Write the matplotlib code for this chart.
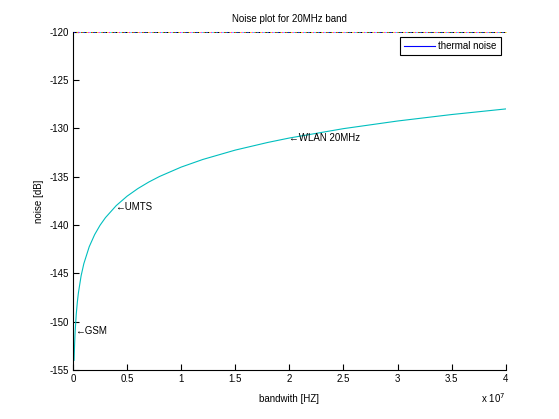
import numpy as np
import matplotlib
matplotlib.use("Agg")
import matplotlib.pyplot as plt
from matplotlib.ticker import MultipleLocator, FuncFormatter

# bandwidth [Hz] and thermal noise [dB]
bandwidth = [1e5, 1.5e5, 2e5, 3e5, 4e5, 5e5, 7.5e5, 1e6, 1.5e6, 2e6, 2.5e6,
             3e6, 4e6, 5e6, 6e6, 7e6, 8e6, 1e7, 1.2e7, 1.5e7, 1.8e7, 2e7,
             2.5e7, 3e7, 3.5e7, 4e7]
noise = [-154.00, -152.24, -150.99, -149.23, -147.98, -147.01, -145.25, -144.00,
         -142.24, -140.99, -140.02, -139.23, -137.98, -137.01, -136.22, -135.55,
         -134.97, -134.00, -133.21, -132.24, -131.45, -130.99, -130.02, -129.23,
         -128.56, -127.98]

# marked standards
std_names = ["GSM", "UMTS", "WLAN 20MHz"]
std_bw = [2e5, 3.84e6, 2e7]
std_noise = [-150.99, -138.16, -130.99]

top_level = -120
top_colors = ["blue", "green", "red", "cyan", "magenta", "gold", "black"]

plt.rcParams["font.family"] = ["Liberation Sans", "DejaVu Sans"]
plt.rcParams["font.size"] = 7
plt.rcParams["axes.unicode_minus"] = False

fig = plt.figure(figsize=(5.59, 4.19), dpi=100)
ax = fig.add_axes([0.1306, 0.117, 0.774, 0.807])

# the thermal noise curve (legend shows blue, the line looks teal)
ax.plot(bandwidth, noise, color=(0.0, 0.75, 0.75), lw=0.8)
legend_line, = ax.plot([], [], color="blue", lw=0.8, label="thermal noise")

# multicoloured dashed line along the top
n = len(top_colors)
for i, c in enumerate(top_colors):
    ax.axhline(top_level, color=c, lw=0.7,
               linestyle=(i * 1.5, (1.5, 1.5 * (n - 1))), clip_on=False)

for name, b, v in zip(std_names, std_bw, std_noise):
    ax.text(b, v, "\u2190" + name, ha="left", va="center")

ax.set_xlim(0, 4e7)
ax.set_ylim(-155, -120)
ax.xaxis.set_major_locator(MultipleLocator(5e6))
ax.yaxis.set_major_locator(MultipleLocator(5))
ax.xaxis.set_major_formatter(FuncFormatter(lambda v, p: f"{v / 1e7:g}"))
ax.text(1.0, -0.062, r"x 10$^7$", transform=ax.transAxes, ha="right", va="top")

ax.spines["top"].set_visible(False)
ax.spines["right"].set_visible(False)
for s in ["left", "bottom"]:
    ax.spines[s].set_linewidth(0.8)
ax.tick_params(direction="in", length=4, width=0.8, pad=3)

ax.set_title("Noise plot for 20MHz band", fontsize=7, pad=7)
ax.set_xlabel("bandwith [HZ]", labelpad=7)
ax.set_ylabel("noise [dB]", labelpad=4)

leg = ax.legend(handles=[legend_line], loc="upper right", fancybox=False,
                framealpha=1, edgecolor="black", borderaxespad=0.5,
                handlelength=3.2, handletextpad=0.3, borderpad=0.45)
leg.get_frame().set_linewidth(0.8)

fig.savefig("out.png", dpi=100)
